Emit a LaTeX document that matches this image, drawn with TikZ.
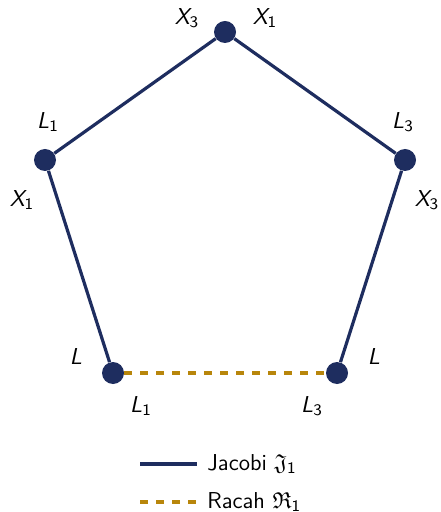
\documentclass[tikz,border=0pt]{standalone}
\usepackage{amsmath}
\usepackage{amssymb}
\usetikzlibrary{positioning}

\definecolor{navy}{RGB}{30,45,95}
\definecolor{gold}{RGB}{184,134,11}

\newcommand{\lab}[2]{$\text{\sffamily\itshape #1}_{\text{\sffamily #2}}$}
\newcommand{\labn}[1]{\text{\sffamily\itshape #1}}

\tikzset{
  vert/.style={circle,fill=navy,minimum size=11pt,inner sep=0pt},
  lab/.style={font=\fontsize{11.5}{13}\selectfont\sffamily,inner sep=0pt},
  jac/.style={navy,line width=1.6pt},
  rac/.style={gold,line width=2.4pt,dash pattern=on 3.8pt off 4.2pt}
}

\begin{document}
\begin{tikzpicture}[x=0.5pt,y=-0.5pt]
        \useasboundingbox (0,0) rectangle (440,512);
        % vertices
        \node[vert] (top) at (225,32) {};
        \node[vert] (lft) at (45,160) {};
        \node[vert] (rgt) at (405,160) {};
        \node[vert] (bl) at (113,373) {};
        \node[vert] (br) at (337,373) {};

        % edges
        \draw[jac] (top) -- (lft);
        \draw[jac] (top) -- (rgt);
        \draw[jac] (lft) -- (bl);
        \draw[jac] (rgt) -- (br);
        \draw[rac] (bl) -- (br);

        % labels
        \node[lab] (tx3) at (187,18) {\lab{X}{3}};
        \node[lab] (tx1) at (265,18) {\lab{X}{1}};
        \node[lab] (ll1) at (48,122) {\lab{L}{1}};
        \node[lab] (lx1) at (22,200) {\lab{X}{1}};
        \node[lab] (rl3) at (403,122) {\lab{L}{3}};
        \node[lab] (rx3) at (427,200) {\lab{X}{3}};
        \node[lab] (bll) at (76,357) {$\labn{L}$};
        \node[lab] (bl1) at (141,406) {\lab{L}{1}};
        \node[lab] (brl) at (374,357) {$\labn{L}$};
        \node[lab] (br3) at (312,406) {\lab{L}{3}};

        % legend
        \coordinate (ja) at (140,464);
        \coordinate (jb) at (197,464);
        \coordinate (ra) at (140,502);
        \coordinate (rb) at (197,502);
        \draw[jac] (ja) -- (jb);
        \draw[rac] (ra) -- (rb);
        \node[lab,right=5pt of jb] (jtext) {Jacobi $\mathfrak{J}_{\text{\sffamily 1}}$};
        \node[lab,right=5pt of rb] (rtext) {Racah $\mathfrak{R}_{\text{\sffamily 1}}$};
\end{tikzpicture}
\end{document}
